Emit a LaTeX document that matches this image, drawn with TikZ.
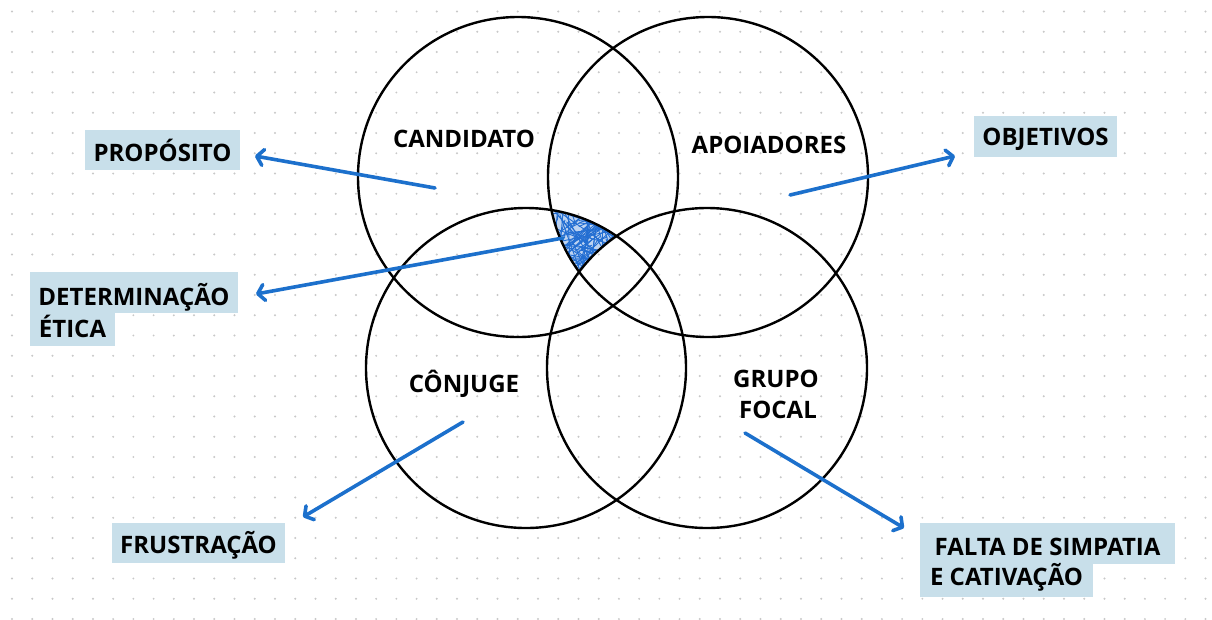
\documentclass[tikz,border=0pt]{standalone}
\usepackage{fontspec}
\setmainfont{Open Sans}
\usetikzlibrary{arrows.meta}
\definecolor{arrowblue}{RGB}{28,112,204}
\definecolor{boxblue}{RGB}{200,223,234}
\definecolor{dotgray}{RGB}{200,200,200}
\definecolor{hatchblue}{RGB}{35,110,210}
\tikzset{
  ring/.style={circle, draw=black, line width=2.4pt, minimum size=320pt, inner sep=0pt},
  ctext/.style={font=\bfseries\fontsize{24}{28}\selectfont, anchor=base, inner sep=0pt},
  lbox/.style={fill=boxblue, font=\bfseries\fontsize{24}{28}\selectfont, anchor=base, inner xsep=0pt, inner ysep=0pt},
  arr/.style={draw=arrowblue, line width=3.6pt, line cap=round, -{Straight Barb[length=6.5pt,width=16pt,round]}},
}
\begin{document}
\begin{tikzpicture}[x=1pt,y=-1pt]
\useasboundingbox (0,0) rectangle (1212,619);
\fill[white] (0,0) rectangle (1212,619);
% dot grid
\foreach \i in {0,...,59}{
  \foreach \j in {0,...,30}{
    \fill[dotgray] (12+20.23*\i, 11.5+20.25*\j) circle (1.1pt);
  }
}
% hatched region: inside candidato, apoiadores, conjuge; outside grupo focal
\begin{scope}[even odd rule]
  \clip (708,177) circle (160pt);
  \clip (526,368) circle (160pt);
  \clip (-20,-20) rectangle (1240,640) (707,368) circle (160pt);
  \fill[hatchblue!30] (540,195) rectangle (640,285);
  \pgfmathsetseed{11}
  \foreach \k in {1,...,110}{
    \draw[hatchblue, line width=0.9pt] (585+38*rand, 240+38*rand) -- (585+38*rand, 240+38*rand);
  }
\end{scope}
% circles
\node[ring] (c1) at (518,177) {};
\node[ring] (c2) at (708,177) {};
\node[ring] (c3) at (526,368) {};
\node[ring] (c4) at (707,368) {};
% circle texts
\node[ctext] (tcand) at (464,147) {CANDIDATO};
\node[ctext] (tapoi) at (769,153) {APOIADORES};
\node[ctext] (tconj) at (464,392) {CÔNJUGE};
\node[ctext] (tgrupo) at (776,387) {GRUPO};
\node[ctext] (tfocal) at (778,418) {FOCAL};
% label boxes
\node[lbox, minimum width=155pt, text height=31pt, text depth=9pt] (prop) at (162.5,161) {PROPÓSITO};
\node[lbox, minimum width=143pt, text height=29pt, text depth=12pt] (obj) at (1045.5,145) {OBJETIVOS};
\node[lbox, minimum width=208pt, text height=33pt, text depth=8pt] (det) at (134,305) {DETERMINAÇÃO};
\node[lbox, minimum width=85pt, text height=24pt, text depth=9pt] (etica) at (72.5,337) {ÉTICA};
\node[lbox, minimum width=173pt, text height=30pt, text depth=10pt] (frus) at (198.5,553) {FRUSTRAÇÃO};
\node[lbox, minimum width=255pt, text height=32pt, text depth=9pt] (falta) at (1047.5,555) {FALTA DE SIMPATIA};
\node[lbox, minimum width=173pt, text height=21pt, text depth=12pt] (cativ) at (1006.5,585) {E CATIVAÇÃO};
% arrow end points
\coordinate (a1s) at (435,188);
\coordinate (a1e) at (255,156);
\coordinate (a2s) at (790,195);
\coordinate (a2e) at (955,156);
\coordinate (a3s) at (563,238);
\coordinate (a3e) at (256,294);
\coordinate (a4s) at (463,422);
\coordinate (a4e) at (303,517);
\coordinate (a5s) at (745,433);
\coordinate (a5e) at (904,528);
\draw[arr] (a1s) -- (a1e);
\draw[arr] (a2s) -- (a2e);
\draw[arr] (a3s) -- (a3e);
\draw[arr] (a4s) -- (a4e);
\draw[arr] (a5s) -- (a5e);
\end{tikzpicture}
\end{document}
